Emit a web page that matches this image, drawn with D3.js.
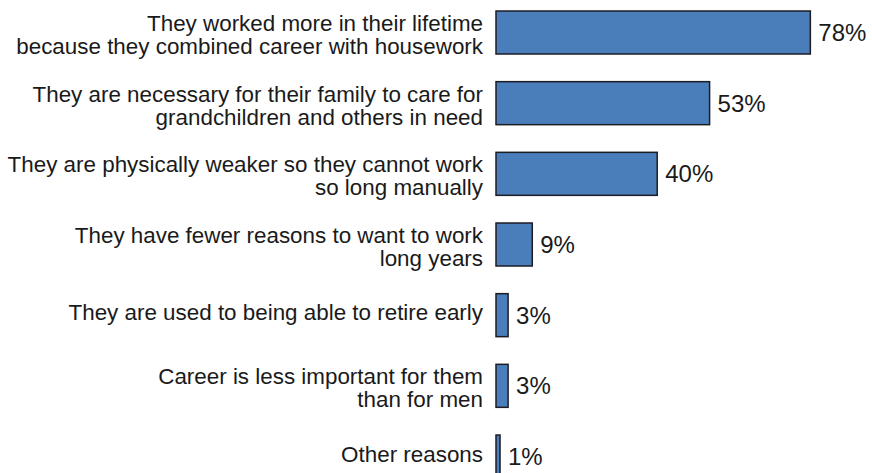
<!DOCTYPE html>
<html>
<head>
<meta charset="utf-8">
<script src="https://cdn.jsdelivr.net/npm/d3@7"></script>
<style>
  html, body { margin: 0; padding: 0; background: #ffffff; }
  svg { display: block; }
  text { font-family: "Liberation Sans", Arial, Helvetica, sans-serif; fill: #1a1a1a; }
</style>
</head>
<body>
<svg id="chart" width="872" height="473"></svg>
<script>
// Data
const categories = [
  "They worked more in their lifetime\nbecause they combined career with housework",
  "They are necessary for their family to care for\ngrandchildren and others in need",
  "They are physically weaker so they cannot work\nso long manually",
  "They have fewer reasons to want to work\nlong years",
  "They are used to being able to retire early",
  "Career is less important for them\nthan for men",
  "Other reasons"
];
const values = [78, 53, 40, 9, 3, 3, 1];
const valueLabels = ["78%", "53%", "40%", "9%", "3%", "3%", "1%"];

const svg = d3.select("#chart");

const x = d3.scaleLinear().domain([0, 100]).range([496, 899]);
const y = d3.scalePoint().domain(categories).range([32.5, 456.5]).padding(0);
const barH = 43;

const rows = categories.map((c, i) => ({ cat: c, lines: c.split("\n"), v: values[i], label: valueLabels[i] }));

// Bars
svg.append("g").selectAll("rect")
  .data(rows)
  .enter().append("rect")
  .attr("x", x(0))
  .attr("y", d => y(d.cat) - barH / 2)
  .attr("width", d => x(d.v) - x(0))
  .attr("height", barH)
  .attr("fill", "#4a7ebb")
  .attr("stroke", "#1c1c24")
  .attr("stroke-width", 1.5);

// Category labels
const lineH = 23;
const cg = svg.append("g");
rows.forEach(d => {
  const c = y(d.cat);
  const t = cg.append("text")
    .attr("text-anchor", "end")
    .attr("font-size", 22.4);
  const base = d.lines.length === 1 ? c + 5 : c - 1.5;
  d.lines.forEach((ln, j) => {
    t.append("tspan")
      .attr("x", 483)
      .attr("y", base + j * lineH)
      .text(ln);
  });
});

// Value labels
svg.append("g").selectAll("text")
  .data(rows)
  .enter().append("text")
  .attr("x", d => x(d.v) + 8)
  .attr("y", d => y(d.cat) + 8.5)
  .attr("font-size", 24)
  .text(d => d.label);
</script>
</body>
</html>
